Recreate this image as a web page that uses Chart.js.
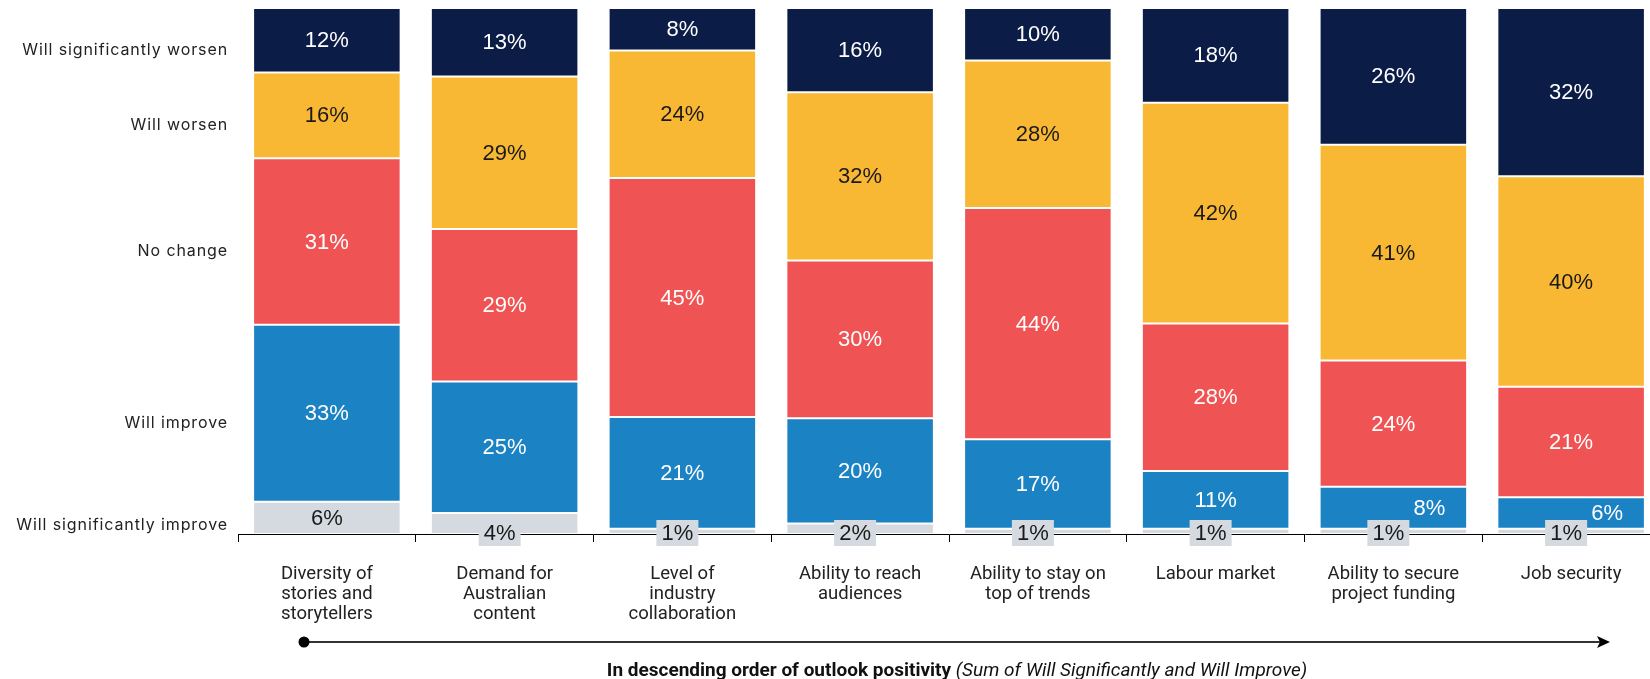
<!DOCTYPE html>
<html>
<head>
<meta charset="utf-8">
<script src="https://cdn.jsdelivr.net/npm/chart.js@4.4.1/dist/chart.umd.min.js"></script>
<style>
  html, body { margin: 0; padding: 0; background: #fff; }
  #wrap { width: 1650px; height: 679px; overflow: hidden; }
</style>
</head>
<body>
<div id="wrap"><canvas id="outlookChart" width="1660" height="679"></canvas></div>
<script>
// categories, ordered by outlook positivity
const categories = [
    ['Diversity of', 'stories and', 'storytellers'],
    ['Demand for', 'Australian', 'content'],
    ['Level of', 'industry', 'collaboration'],
    ['Ability to reach', 'audiences'],
    ['Ability to stay on', 'top of trends'],
    ['Labour market'],
    ['Ability to secure', 'project funding'],
    ['Job security']
];

// response shares (%), as printed on the chart
const sigImprove = [6, 4, 1, 2, 1, 1, 1, 1];
const improve    = [33, 25, 21, 20, 17, 11, 8, 6];
const noChange   = [31, 29, 45, 30, 44, 28, 24, 21];
const worsen     = [16, 29, 24, 32, 28, 42, 41, 40];
const sigWorsen  = [12, 13, 8, 16, 10, 18, 26, 32];

const responseLabels = ['Will significantly improve', 'Will improve', 'No change', 'Will worsen', 'Will significantly worsen'];

const series = [sigImprove, improve, noChange, worsen, sigWorsen];
const colors = ['#d5dae0', '#1b82c4', '#f05353', '#f9b833', '#0b1c47'];
const textColors = ['#1a1a1a', '#ffffff', '#ffffff', '#1a1a1a', '#ffffff'];

// bars are drawn as share of the column total (rounded values don't always add to 100)
const totals = categories.map((c, i) => series.reduce((s, arr) => s + arr[i], 0));

const datasets = series.map((arr, k) => ({
    label: responseLabels[k],
    data: arr.map((v, i) => v / totals[i] * 100),
    raw: arr,
    labelColor: textColors[k],
    backgroundColor: colors[k],
    borderColor: '#ffffff',
    borderWidth: 1,
    borderSkipped: false,
    barPercentage: 0.83,
    categoryPercentage: 1
}));

// row labels sit at the middle of each segment of the first column
const firstCol = datasets.map(d => d.data[0]);
const rowMids = [];
let acc = 0;
firstCol.forEach(v => { rowMids.push(acc + v / 2); acc += v; });

// --- row names on the left (drawn with a bit of letter spacing) ---
const rowNames = {
    id: 'rowNames',
    afterDraw(chart) {
        const ctx = chart.ctx;
        const y = chart.scales.y;
        ctx.save();
        ctx.font = '16px Inter, sans-serif';
        if ('letterSpacing' in ctx) ctx.letterSpacing = '0.9px';
        ctx.fillStyle = '#222';
        ctx.textAlign = 'right';
        ctx.textBaseline = 'middle';
        rowMids.forEach((v, k) => {
            const off = k === 0 ? 7 : 10;
            ctx.fillText(responseLabels[k], chart.chartArea.left - 10, y.getPixelForValue(v) + off);
        });
        ctx.restore();
    }
};

// --- value labels inside the segments ---
const barLabels = {
    id: 'barLabels',
    afterDatasetsDraw(chart) {
        const ctx = chart.ctx;
        const axisY = chart.scales.x.top;
        ctx.save();
        ctx.font = '22px "Liberation Sans", Arial, sans-serif';
        ctx.textAlign = 'center';
        ctx.textBaseline = 'middle';
        chart.data.datasets.forEach((ds, di) => {
            chart.getDatasetMeta(di).data.forEach((bar, i) => {
                const v = ds.raw[i];
                let x = bar.x;
                let y = (bar.y + bar.base) / 2;
                if (di === 0 && v < 5) {
                    // tiny segments get a tag over the axis
                    x -= 5;
                    y = axisY - 1;
                    ctx.fillStyle = '#d5dae0';
                    ctx.fillRect(x - 21, y - 13, 42, 26);
                } else if (di === 1 && v < 10) {
                    x += 36;
                }
                ctx.fillStyle = ds.labelColor;
                ctx.fillText(v + '%', x, y + 1);
            });
        });
        ctx.restore();
    }
};

// --- arrow and caption under the axis ---
const orderArrow = {
    id: 'orderArrow',
    afterDraw(chart) {
        const ctx = chart.ctx;
        const y = 642;
        ctx.save();
        ctx.strokeStyle = '#333';
        ctx.lineWidth = 2;
        ctx.beginPath();
        ctx.moveTo(304, y);
        ctx.lineTo(1602, y);
        ctx.stroke();
        ctx.fillStyle = '#000';
        ctx.beginPath();
        ctx.arc(304, y, 5.5, 0, Math.PI * 2);
        ctx.fill();
        ctx.beginPath();
        ctx.moveTo(1610, y);
        ctx.lineTo(1597, y - 6);
        ctx.lineTo(1600, y);
        ctx.lineTo(1597, y + 6);
        ctx.closePath();
        ctx.fill();

        const boldTxt = 'In descending order of outlook positivity';
        const italTxt = '(Sum of Will Significantly and Will Improve)';
        const boldFont = 'bold 19px Roboto, sans-serif';
        const italFont = 'italic 19px Roboto, sans-serif';
        ctx.font = boldFont;
        const w1 = ctx.measureText(boldTxt + ' ').width;
        ctx.font = italFont;
        const w2 = ctx.measureText(italTxt).width;
        let x = 957 - (w1 + w2) / 2;
        ctx.textBaseline = 'middle';
        ctx.textAlign = 'left';
        ctx.fillStyle = '#111';
        ctx.font = boldFont;
        ctx.fillText(boldTxt, x, 671);
        ctx.font = italFont;
        ctx.fillText(italTxt, x + w1, 671);
        ctx.restore();
    }
};

const ctx = document.getElementById('outlookChart').getContext('2d');
new Chart(ctx, {
    type: 'bar',
    data: { labels: categories, datasets: datasets },
    plugins: [barLabels, rowNames, orderArrow],
    options: {
        responsive: false,
        animation: false,
        devicePixelRatio: 1,
        layout: { padding: { top: 8, left: 0, right: 0, bottom: 0 } },
        plugins: {
            legend: { display: false },
            tooltip: { enabled: false }
        },
        scales: {
            x: {
                stacked: true,
                grid: { display: true, drawOnChartArea: false, drawTicks: true, tickLength: 8, color: '#000', offset: true },
                border: { display: true, color: '#000', width: 1 },
                ticks: {
                    color: '#222',
                    font: { family: 'Roboto', size: 18.5, lineHeight: 1.08 },
                    padding: 22,
                    maxRotation: 0,
                    autoSkip: false
                },
                afterFit: function(scale) { scale.height = 145; }
            },
            y: {
                stacked: true,
                min: 0,
                max: 100,
                grid: { display: false, drawTicks: false },
                border: { display: false },
                ticks: { display: false },
                afterFit: function(scale) {
                    scale.width = 238;
                    scale.paddingTop = 0;
                    scale.paddingBottom = 0;
                }
            }
        }
    }
});
</script>
</body>
</html>
